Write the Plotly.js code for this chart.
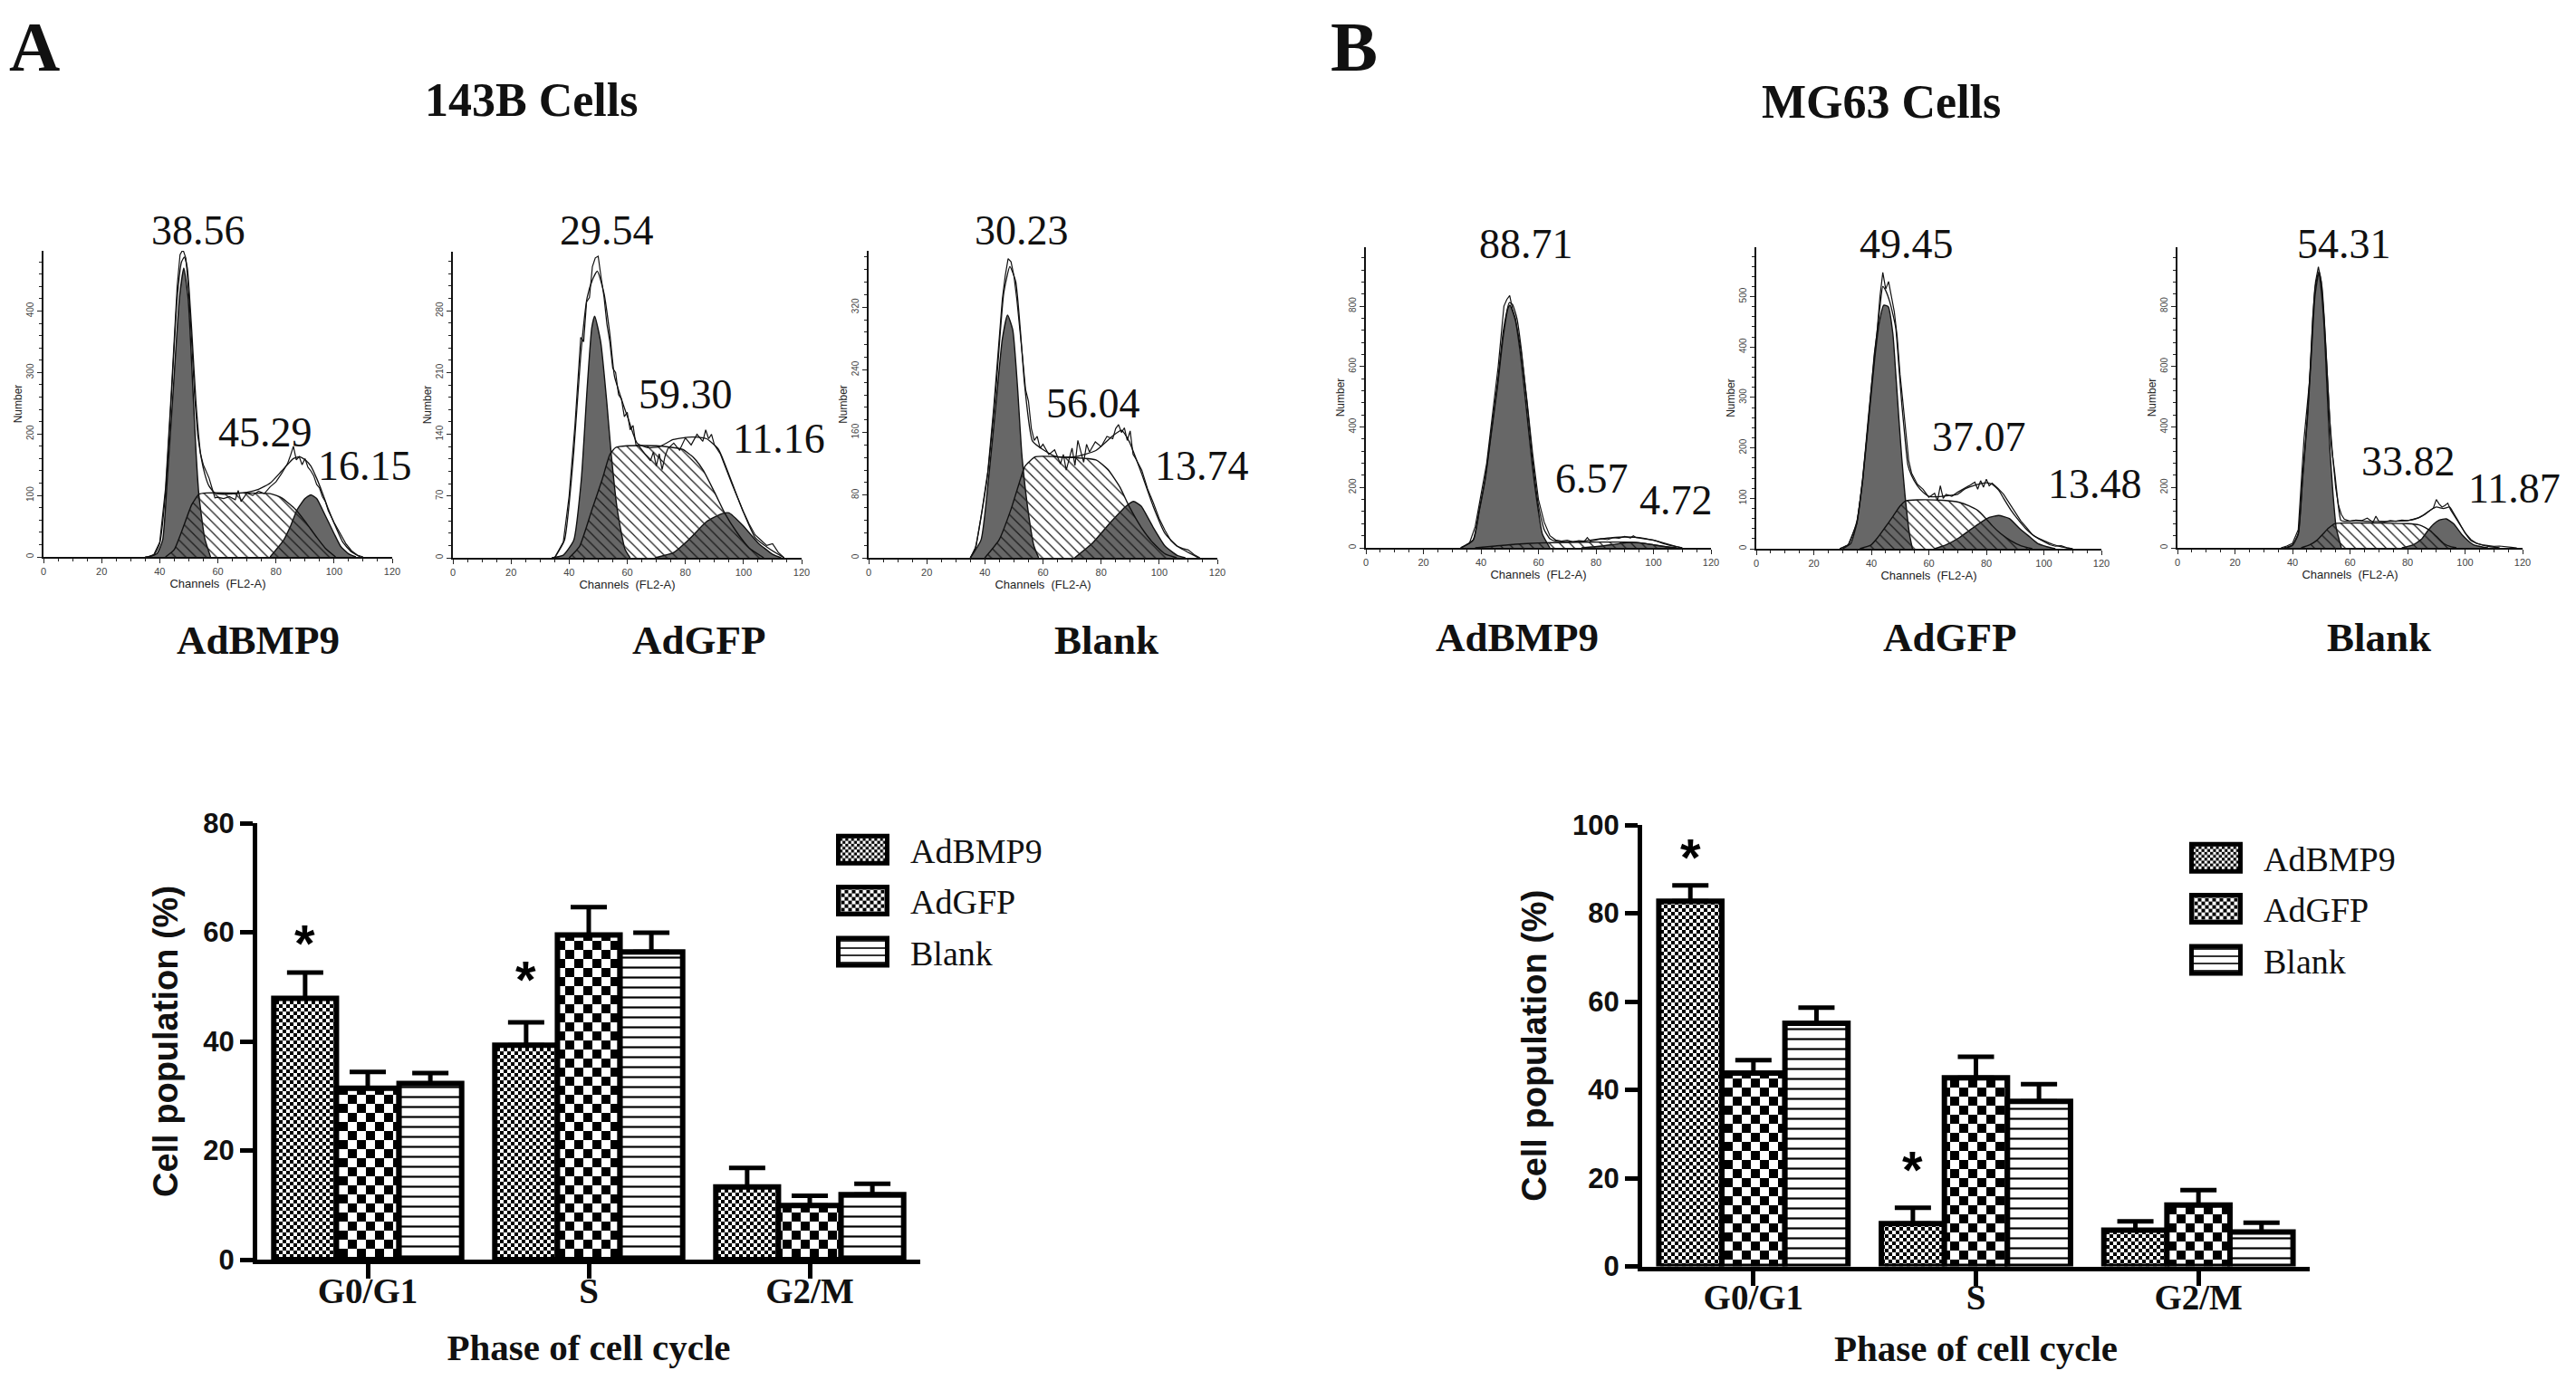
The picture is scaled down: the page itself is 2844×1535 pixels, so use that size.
<!DOCTYPE html>
<html><head><meta charset="utf-8">
<script src="https://cdn.plot.ly/plotly-3.0.1.min.js"></script>
<style>html,body{margin:0;padding:0;background:#fff}</style>
</head><body>
<div id="chart" style="width:2844px;height:1535px"></div>
<script>
// ---------------- DATA: flow cytometry histograms (channel, count) ----------------
// 143B AdBMP9
const a1_g1_x = [36,39,41,42.6,44.7,46.8,48.3,49.8,51.4,52.5,53.5,55.5,57.5];
const a1_g1_y = [0,5,27,126,275,422,470,420,275,170,100,30,0];
const a1_s_x = [42,45,48,51,53.5,56,65,78,82,86.8,90,94,97,100.5];
const a1_s_y = [0,12,47,85,102,104,104,103,96,77,58,32,14,0];
const a1_g2_x = [78,82.6,85,87.3,90,92,94,97,100,102.3,105,107.5];
const a1_g2_y = [0,27,50,77,95,101,95,67,38,17,5,0];
const a1_fit_x = [35,38,40,42,44,46,47.5,48.5,49.5,51,52.5,54,55.5,57,59,62,66,70,74,78,82,86,88,90,92,94,96,98,100,103,106,109];
const a1_fit_y = [0,3,22,105,260,420,480,488,470,370,250,170,135,115,104,102,103,105,110,120,140,160,163,158,148,128,104,78,55,24,8,0];
const a1_raw_x = [36,38,40,42,44,46,47,48,49,50,51,52,53,54,55,56,57,58,59,60,62,64,66,67,68,70,72,74,76,78,80,82,84,85,86,87,88,89,90,91,92,93,94,95,96,97,98,100,102,104,106,108,110];
const a1_raw_y = [0,4,24,112,270,440,492,500,486,430,350,262,200,168,150,140,128,112,96,97,95,98,93,108,90,104,100,107,103,114,122,136,152,165,180,158,163,150,160,146,140,132,118,112,98,90,75,56,40,22,10,3,0];
// 143B AdGFP
const a2_g1_x = [34,38,41.6,44.2,46.2,47.8,48.8,50.9,53,54.5,56.6,59.2,61];
const a2_g1_y = [0,3,20,89,192,261,274,244,175,117,54,10,0];
const a2_s_x = [40,43.6,47.8,51.4,54,56,60,70,79,83,86.2,90.4,93.5,97.7,102,107];
const a2_s_y = [0,13,54,89,117,125,127,127,123,113,99,72,51,29,11,0];
const a2_g2_x = [69.6,76,81,87.3,92.5,95,99.7,105,110,113];
const a2_g2_y = [0,6,20,41,50,51,37,17,4,0];
const a2_fit_x = [35,38.4,41.6,44,46.2,48,49.7,52,54,55.6,58.2,60.3,63.4,67,71,75.8,79,83,87.3,91.4,95.6,99.7,104,109,114];
const a2_fit_y = [0,20,120,230,295,315,325,300,254,206,178,158,130,125,126,134,136,137,135,123,89,54,23,10,0];
const a2_raw_x = [35,38,40,42,43,44,45,46,47,48,49,50,51,52,53,54,55,56,57,58,59,60,61,62,63,64,66,68,69,70,71,72,73,74,76,78,80,82,84,86,87,88,89,90,92,94,96,98,100,102,104,106,108,110,112,114];
const a2_raw_y = [0,18,70,150,200,250,245,290,295,330,340,342,318,296,265,245,215,210,185,180,160,165,145,150,128,127,118,110,120,104,118,100,115,124,130,122,136,128,140,132,145,135,140,128,118,100,84,68,52,38,26,20,14,16,6,0];
// 143B Blank
const a3_g1_x = [35,38.7,41.3,43.9,46,47.8,49.6,51.2,52.7,54.8,56.9,58.5];
const a3_g1_y = [0,23,102,200,279,310,291,220,133,62,15,0];
const a3_s_x = [40,44.9,49,51.7,53.8,57.4,65,78.2,82.3,86.5,89.6,93.8,97.9,102,106];
const a3_s_y = [0,23,62,94,117,129,129,125,113,90,66,39,19,5,0];
const a3_g2_x = [70.9,77.1,83.4,88.6,91.2,93.8,97.9,102,106.2,109];
const a3_g2_y = [0,19,46,66,72,66,39,15,3,0];
const a3_fit_x = [35,36.6,40.8,43.9,46.5,48.6,50.6,52.2,53.7,56.4,60.5,64.7,70.9,78.2,84.4,87,89.6,93.8,97.9,102,106.2,113.5];
const a3_fit_y = [0,11,102,220,338,372,353,291,220,149,137,129,129,137,157,163,149,109,66,31,15,0];
const a3_raw_x = [35,37,39,41,43,45,46,47,48,49,50,51,52,53,54,55,56,57,58,59,60,62,64,66,67,68,70,71,72,74,75,76,78,80,82,84,85,86,87,88,89,90,91,92,94,96,98,100,102,104,106,108,110,112,114];
const a3_raw_y = [0,15,60,110,190,290,330,360,382,378,360,330,295,255,215,200,165,150,155,140,145,132,138,120,132,112,140,118,150,122,145,135,148,142,155,152,165,170,160,166,150,162,132,126,112,88,70,50,35,22,15,12,10,4,0];
// MG63 AdBMP9
const b1_g1_x = [33,37.3,39.5,41.5,43.6,45.7,47.8,49.4,50.1,52,53.6,55.6,57.8,59.9,61.4,64];
const b1_g1_y = [0,25,126,227,379,530,702,793,803,752,651,480,278,126,45,0];
const b1_s_x = [38,45,52,60,70,80,90,95,100,105,108];
const b1_s_y = [0,6,12,16,18,19,19,17,10,3,0];
const b1_g2_x = [75,82,88,92,96,100,104,108];
const b1_g2_y = [0,6,14,18,16,10,4,0];
const b1_fit_x = [33,37.3,39.5,41.5,43.6,45.7,47.8,49.9,51,52.5,54,56,58,60,62,64,66,70,75,80,85,90,95,100,105,110];
const b1_fit_y = [0,27,130,232,385,540,720,812,805,760,660,480,290,140,60,30,22,20,22,28,33,36,34,25,10,0];
const b1_raw_x = [33,36,38,40,42,44,46,47,48,49,50,51,52,54,56,58,60,62,64,66,68,70,72,74,76,77,78,80,82,84,86,88,90,92,93,94,96,98,100,102,104,106,108,110];
const b1_raw_y = [0,15,70,170,280,440,600,700,800,822,835,790,760,650,490,310,160,85,40,26,22,25,20,24,22,34,23,26,30,27,34,32,38,33,40,34,30,28,26,20,16,10,4,0];
// MG63 AdGFP
const b2_g1_x = [30,32.8,35,37,39.1,41.2,42.8,44.3,45.9,47.5,48.5,49.6,50.6,51.7,53.3,54.3];
const b2_g1_y = [0,10,52,137,257,378,450,483,480,426,347,257,179,107,28,0];
const b2_s_x = [36,40,42.2,44.5,47.5,50,52,56,65,70.6,74,77,79.5,82,85,88.5,92,96];
const b2_s_y = [0,8,22,40,64,85,95,97,96,92,85,76,62,46,30,16,6,0];
const b2_g2_x = [62,66,70.6,74,78,81,84.3,88,91.6,95,98,101,104];
const b2_g2_y = [0,8,22,36,52,62,66,60,40,24,10,4,0];
const b2_fit_x = [29,32,35,37,39,41.2,43,44,45,46.4,47.5,48.5,49.6,50.6,51.7,52.7,54,56,58,60,63,66,70,72.7,76,80,82,84.3,86,88.5,91,93.7,97,100,103,106,110];
const b2_fit_y = [0,8,55,140,262,388,480,520,512,490,465,438,360,287,220,167,145,125,112,104,103,105,108,119,126,131,128,116,100,77,58,40,24,16,9,4,0];
const b2_raw_x = [29,32,35,37,39,41,42,43,44,45,46,47,48,49,50,51,52,53,54,55,56,58,60,62,63,64,65,66,68,70,72,74,76,77,78,79,80,81,82,84,86,88,90,92,94,96,98,100,102,104,106,108,110];
const b2_raw_y = [0,8,50,135,255,385,430,500,548,515,530,500,470,420,345,290,225,175,150,140,128,118,102,110,95,125,100,108,104,112,118,125,132,118,135,122,138,125,130,120,108,90,72,55,42,28,20,14,8,5,6,2,0];
// MG63 Blank
const b3_g1_x = [38,40,42,43.5,45.2,46.5,47.8,49.1,50,51,52,53,54.1,55.2,57];
const b3_g1_y = [0,8,45,227,429,631,833,909,853,732,530,328,177,66,0];
const b3_s_x = [43,46,48.5,50.5,52.5,54.7,58,70,80,84,86,88,90,92.5,95,97];
const b3_s_y = [0,10,25,45,65,80,82,82,80,76,68,56,38,15,4,0];
const b3_g2_x = [78,82,85,87,89,91,93.5,96,98.8,101,103,106,108];
const b3_g2_y = [0,10,30,56,78,92,96,80,45,24,10,3,0];
const b3_fit_x = [37,40,42,43.5,45.2,46.5,47.8,49.2,50.3,51.5,52.5,53.5,54.7,55.8,56.8,58,62,66,70,75,80,83,85.1,88,90,92.5,94.6,96,97.8,100,102,105,108,112];
const b3_fit_y = [0,10,48,232,440,650,860,915,860,682,500,340,247,150,91,88,90,88,87,88,90,96,106,125,135,130,135,115,86,50,25,12,5,0];
const b3_raw_x = [36,38,40,42,44,46,47,48,49,50,51,52,53,54,55,56,57,58,60,62,64,66,68,69,70,72,74,76,78,80,82,84,86,88,89,90,91,92,93,94,95,96,98,100,102,104,106,108,110,112,114,116,118];
const b3_raw_y = [0,6,15,60,360,560,760,880,930,880,760,600,420,300,200,140,110,95,88,92,90,98,85,105,88,86,90,88,92,90,94,100,110,125,132,160,145,135,140,148,125,110,80,50,28,15,10,8,5,6,3,2,0];

// phase percentages printed on each histogram (G0/G1, S, G2/M)
const a1_pct = ['38.56','45.29','16.15'];
const a2_pct = ['29.54','59.30','11.16'];
const a3_pct = ['30.23','56.04','13.74'];
const b1_pct = ['88.71','6.57','4.72'];
const b2_pct = ['49.45','37.07','13.48'];
const b3_pct = ['54.31','33.82','11.87'];
const histYTick = [100,70,80,200,100,200];   // labelled tick step on the "Number" axes
const histYTop  = [498,347,392,995,598,995];

// ---------------- DATA: bar charts ----------------
const phases = ['G0/G1','S','G2/M'];
const groups = ['AdBMP9','AdGFP','Blank'];
const a_bmp9 = [47.9,39.3,13.3], a_bmp9_err = [4.7,4.2,3.5];
const a_gfp  = [31.4,59.5,9.9],  a_gfp_err  = [3.0,5.1,1.8];
const a_blank= [32.3,56.4,11.9], a_blank_err= [1.9,3.5,2.0];
const b_bmp9 = [82.7,9.7,8.2],   b_bmp9_err = [3.6,3.6,2.0];
const b_gfp  = [43.8,42.7,13.9], b_gfp_err  = [2.9,4.8,3.4];
const b_blank= [55.1,37.4,7.8],  b_blank_err= [3.5,3.9,2.1];
const a_star_y = [59.6,53.1];  // asterisks over AdBMP9 (G0/G1, S)
const b_star_y = [94.7,23.9];

// ---------------- LAYOUT helpers ----------------
const W=2844, H=1535;
const fx=p=>p/W, fy=p=>1-p/H;
const SERIF='Liberation Serif, Times New Roman, serif';
const SANS='Liberation Sans, Arial, sans-serif';

const hists = [
  {g1x:a1_g1_x,g1y:a1_g1_y,sx:a1_s_x,sy:a1_s_y,g2x:a1_g2_x,g2y:a1_g2_y,fx:a1_fit_x,fy:a1_fit_y,rx:a1_raw_x,ry:a1_raw_y,pct:a1_pct},
  {g1x:a2_g1_x,g1y:a2_g1_y,sx:a2_s_x,sy:a2_s_y,g2x:a2_g2_x,g2y:a2_g2_y,fx:a2_fit_x,fy:a2_fit_y,rx:a2_raw_x,ry:a2_raw_y,pct:a2_pct},
  {g1x:a3_g1_x,g1y:a3_g1_y,sx:a3_s_x,sy:a3_s_y,g2x:a3_g2_x,g2y:a3_g2_y,fx:a3_fit_x,fy:a3_fit_y,rx:a3_raw_x,ry:a3_raw_y,pct:a3_pct},
  {g1x:b1_g1_x,g1y:b1_g1_y,sx:b1_s_x,sy:b1_s_y,g2x:b1_g2_x,g2y:b1_g2_y,fx:b1_fit_x,fy:b1_fit_y,rx:b1_raw_x,ry:b1_raw_y,pct:b1_pct},
  {g1x:b2_g1_x,g1y:b2_g1_y,sx:b2_s_x,sy:b2_s_y,g2x:b2_g2_x,g2y:b2_g2_y,fx:b2_fit_x,fy:b2_fit_y,rx:b2_raw_x,ry:b2_raw_y,pct:b2_pct},
  {g1x:b3_g1_x,g1y:b3_g1_y,sx:b3_s_x,sy:b3_s_y,g2x:b3_g2_x,g2y:b3_g2_y,fx:b3_fit_x,fy:b3_fit_y,rx:b3_raw_x,ry:b3_raw_y,pct:b3_pct}
];
// plot boxes in pixels: left, right, top, bottom
const histBox = [[48,433,277,615],[500,885,278,616],[959,1344,277,616],[1508,1889,273,605],[1939,2320,273,606],[2404,2785,273,605]];
// pixel positions of the three percentages on each histogram
const pctPos = [
  [[219,255],[293,477],[403,515]],
  [[670,255],[757,435],[860,485]],
  [[1128,255],[1207,445],[1327,515]],
  [[1685,270],[1757,528],[1850,552]],
  [[2105,270],[2185,482],[2313,535]],
  [[2588,270],[2659,510],[2776,540]]
];
const histLabelPos = [[285,707],[772,707],[1221,707],[1675,704],[2153,704],[2626,704]];

const data=[];
const layout={
  width:W,height:H,margin:{l:0,r:0,t:0,b:0},paper_bgcolor:'#fff',plot_bgcolor:'rgba(0,0,0,0)',
  showlegend:true,barmode:'group',bargap:0.15,bargroupgap:0,
  annotations:[],font:{family:SANS,color:'#111'}
};

hists.forEach((d,k)=>{
  const n=k+1, xa='x'+(k?n:''), ya='y'+(k?n:'');
  const common={type:'scatter',mode:'lines',xaxis:xa,yaxis:ya,showlegend:false,hoverinfo:'skip'};
  data.push(Object.assign({},common,{x:d.g1x,y:d.g1y,fill:'tozeroy',fillcolor:'#676767',line:{color:'#111',width:1.4,shape:'spline',smoothing:0.5}}));
  data.push(Object.assign({},common,{x:d.g2x,y:d.g2y,fill:'tozeroy',fillcolor:'#676767',line:{color:'#111',width:1.4,shape:'spline',smoothing:0.5}}));
  data.push(Object.assign({},common,{x:d.sx,y:d.sy,fill:'tozeroy',fillcolor:'rgba(255,255,255,0)',
     fillpattern:{shape:'\\',size:8,solidity:0.16,fgcolor:'#1a1a1a',bgcolor:'rgba(0,0,0,0)'},
     line:{color:'#111',width:1.4,shape:'spline',smoothing:0.5}}));
  data.push(Object.assign({},common,{x:d.fx,y:d.fy,line:{color:'#111',width:1.3,shape:'spline',smoothing:0.5}}));
  data.push(Object.assign({},common,{x:d.rx,y:d.ry,line:{color:'#111',width:1.2}}));
  const b=histBox[k];
  layout['xaxis'+(k?n:'')]={domain:[fx(b[0]),fx(b[1])],anchor:ya,range:[0,120],tick0:0,dtick:20,
    ticks:'outside',ticklen:5,tickwidth:1,tickcolor:'#222',
    minor:{dtick:5,ticks:'outside',ticklen:3,tickwidth:1,tickcolor:'#222'},
    showline:true,linecolor:'#111',linewidth:1.6,showgrid:false,zeroline:false,
    tickfont:{family:SANS,size:11,color:'#444'},
    title:{text:'Channels  (FL2-A)',font:{family:SANS,size:13,color:'#222'},standoff:0}};
  const dt=histYTick[k];
  layout['yaxis'+(k?n:'')]={domain:[fy(b[3]),fy(b[2])],anchor:xa,range:[0,histYTop[k]],tick0:0,dtick:dt,
    ticks:'outside',ticklen:5,tickwidth:1,tickcolor:'#222',tickangle:-90,
    minor:{dtick:dt/5,ticks:'outside',ticklen:3,tickwidth:1,tickcolor:'#222'},
    showline:true,linecolor:'#111',linewidth:1.6,showgrid:false,zeroline:false,
    tickfont:{family:SANS,size:10,color:'#444'},
    title:{text:'Number',font:{family:SANS,size:12,color:'#222'},standoff:1}};
  d.pct.forEach((t,i)=>{
    layout.annotations.push({xref:'paper',yref:'paper',x:fx(pctPos[k][i][0]),y:fy(pctPos[k][i][1]),
      text:t,showarrow:false,xanchor:'center',yanchor:'middle',font:{family:SERIF,size:46,color:'#111'}});
  });
  layout.annotations.push({xref:'paper',yref:'paper',x:fx(histLabelPos[k][0]),y:fy(histLabelPos[k][1]),
    text:groups[k%3],showarrow:false,xanchor:'center',yanchor:'middle',font:{family:SERIF,size:45,weight:'bold',color:'#111'}});
});

// panel letters and titles
[['A',38,52],['B',1495,52]].forEach(p=>layout.annotations.push({xref:'paper',yref:'paper',x:fx(p[1]),y:fy(p[2]),text:p[0],showarrow:false,xanchor:'center',yanchor:'middle',font:{family:SERIF,size:78,weight:'bold',color:'#111'}}));
[['143B Cells',586,111],['MG63 Cells',2077,112]].forEach(p=>layout.annotations.push({xref:'paper',yref:'paper',x:fx(p[1]),y:fy(p[2]),text:p[0],showarrow:false,xanchor:'center',yanchor:'middle',font:{family:SERIF,size:52,weight:'bold',color:'#111'}}));

// ---------------- bar charts ----------------
const patBMP9={shape:'.',size:8,solidity:0.5,fgcolor:'#000',bgcolor:'#fff'};
const patGFP ={shape:'.',size:20,solidity:0.5,fgcolor:'#000',bgcolor:'#fff'};
const patBlank={shape:'-',size:11,solidity:0.2,fgcolor:'#000',bgcolor:'#fff'};
const pats=[patBMP9,patGFP,patBlank];
function barSet(xa,ya,leg,vals,errs,tag){
  vals.forEach((v,i)=>{
    data.push({type:'bar',x:phases,y:v,name:groups[i],xaxis:xa,yaxis:ya,legend:leg,legendgroup:tag+i,
      marker:{color:'#fff',line:{color:'#000',width:6},pattern:pats[i]},
      error_y:{type:'data',symmetric:false,array:errs[i],arrayminus:[0,0,0],color:'#000',thickness:5,width:20},
      hoverinfo:'skip'});
  });
}
barSet('x7','y7','legend',[a_bmp9,a_gfp,a_blank],[a_bmp9_err,a_gfp_err,a_blank_err],'a');
barSet('x8','y8','legend2',[b_bmp9,b_gfp,b_blank],[b_bmp9_err,b_gfp_err,b_blank_err],'b');

function barAxes(xl,xr,yTop,yBot,ymax,ya,xa,tstand){
  return [{domain:[fx(xl),fx(xr)],anchor:ya,type:'category',range:[-0.5,2.5],
    showline:true,linecolor:'#000',linewidth:5,ticks:'outside',ticklen:16,tickwidth:5,tickcolor:'#000',
    ticklabelstandoff:-20,
    showgrid:false,zeroline:false,tickfont:{family:SERIF,size:39,weight:'bold',color:'#111'},
    title:{text:'Phase of cell cycle',font:{family:SERIF,size:41,weight:'bold',color:'#111'},standoff:tstand}},
   {domain:[fy(yBot),fy(yTop)],anchor:xa,range:[0,ymax],dtick:20,
    showline:true,linecolor:'#000',linewidth:5,ticks:'outside',ticklen:14,tickwidth:5,tickcolor:'#000',
    showgrid:false,zeroline:false,tickfont:{family:SANS,size:31,weight:'bold',color:'#111'},
    title:{text:'Cell population (%)',font:{family:SANS,size:38,weight:'bold',color:'#111'},standoff:18}}];
}
[layout.xaxis7,layout.yaxis7]=barAxes(284,1016,909,1391,80,'y7','x7',29);
[layout.xaxis8,layout.yaxis8]=barAxes(1813,2550,911,1398.5,100,'y8','x8',23);

const barOff=-(1-layout.bargap)/3;
[[a_star_y,'x7','y7'],[b_star_y,'x8','y8']].forEach(s=>{
  s[0].forEach((yv,i)=>layout.annotations.push({xref:s[1],yref:s[2],x:i+barOff,y:yv,text:'*',showarrow:false,
    xanchor:'center',yanchor:'middle',yshift:-10,font:{family:SANS,size:58,weight:'bold',color:'#000'}}));
});

const legCommon={xanchor:'left',yanchor:'top',font:{family:SERIF,size:38,color:'#111'},bgcolor:'rgba(0,0,0,0)',
  itemwidth:95,tracegroupgap:4,itemclick:false,itemdoubleclick:false};
layout.legend=Object.assign({x:fx(900),y:fy(907)},legCommon);
layout.legend2=Object.assign({x:fx(2394),y:fy(916)},legCommon);

Plotly.newPlot('chart',data,layout,{displayModeBar:false}).then(gd=>{
  const ns='http://www.w3.org/2000/svg';
  gd.querySelectorAll('pattern').forEach(p=>{
    if(p.querySelector('circle')){
      const w=parseFloat(p.getAttribute('width')),h=parseFloat(p.getAttribute('height'));
      while(p.firstChild) p.removeChild(p.firstChild);
      const mk=(x,y,ww,hh,f)=>{const r=document.createElementNS(ns,'rect');
        r.setAttribute('x',x);r.setAttribute('y',y);r.setAttribute('width',ww);r.setAttribute('height',hh);r.setAttribute('fill',f);p.appendChild(r);};
      mk(0,0,w,h,'#fff');mk(0,0,w/2,h/2,'#000');mk(w/2,h/2,w/2,h/2,'#000');
    }
  });
  gd.querySelectorAll('.legendpoints path').forEach(path=>{
    path.setAttribute('d','M-27,-15H27V15H-27Z');path.style.strokeWidth='5px';path.style.stroke='#000';
  });
});
</script>
</body></html>
